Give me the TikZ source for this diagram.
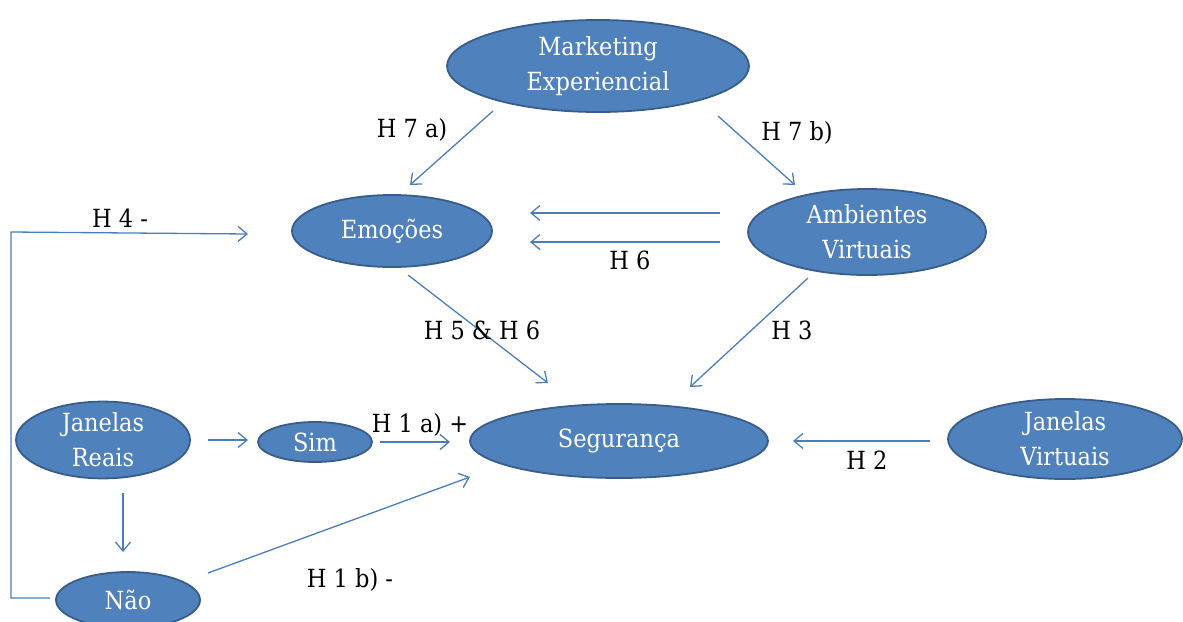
\documentclass[tikz,border=0pt]{standalone}
\usepackage{fontspec}
\setmainfont[FakeStretch=0.9]{DejaVu Serif}
\usetikzlibrary{shapes.geometric,arrows.meta}
\definecolor{nodefill}{HTML}{4F81BD}
\definecolor{nodeline}{HTML}{385D8A}
\definecolor{arrowc}{HTML}{4A7EBB}
\tikzset{
  oval/.style={ellipse,draw=nodeline,line width=1.8pt,fill=nodefill,text=white,inner sep=0pt,align=center,font=\fontsize{25}{35}\selectfont},
  conn/.style={draw=arrowc,line width=1.3pt,-{Straight Barb[length=9pt,width=15pt]}},
  lbl/.style={text=black,inner sep=0pt,font=\fontsize{25}{35}\selectfont}
}
\begin{document}
\begin{tikzpicture}[x=1pt,y=-1pt]
\useasboundingbox (0,0) rectangle (1183,621);
\node[oval,minimum width=302pt,minimum height=92pt] (mk) at (598,66) {Marketing\\Experiencial};
\node[oval,minimum width=200pt,minimum height=72pt] (em) at (392,231) {Emoções};
\node[oval,minimum width=238pt,minimum height=86pt] (av) at (867,232) {Ambientes\\Virtuais};
\node[oval,minimum width=298pt,minimum height=74pt] (seg) at (619,441) {Segurança};
\node[oval,minimum width=234pt,minimum height=80pt] (jv) at (1065,439) {Janelas\\Virtuais};
\node[oval,minimum width=174pt,minimum height=76pt] (jr) at (103,440) {Janelas\\Reais};
\node[oval,minimum width=114pt,minimum height=40pt] (sim) at (315,442) {Sim};
\node[oval,minimum width=144pt,minimum height=56pt] (nao) at (128,600) {Não};

\draw[conn] ([shift={(-105,45)}]mk.center) -- ([shift={(18,-46)}]em.center);
\draw[conn] ([shift={(120,50)}]mk.center) -- ([shift={(-72,-47)}]av.center);
\draw[conn] ([shift={(-147,-19)}]av.center) -- ([shift={(138,-18)}]em.center);
\draw[conn] ([shift={(-147,10)}]av.center) -- ([shift={(138,11)}]em.center);
\draw[conn] ([shift={(16,44)}]em.center) -- ([shift={(-71,-58)}]seg.center);
\draw[conn] ([shift={(-59,46)}]av.center) -- ([shift={(71,-54)}]seg.center);
\draw[conn] ([shift={(105,0)}]jr.center) -- ([shift={(-67,-2)}]sim.center);
\draw[conn] ([shift={(65,0)}]sim.center) -- ([shift={(-169,1)}]seg.center);
\draw[conn] ([shift={(20,53)}]jr.center) -- ([shift={(-5,-48)}]nao.center);
\draw[conn] ([shift={(80,-27)}]nao.center) -- ([shift={(-149,36)}]seg.center);
\draw[conn] ([shift={(-135,2)}]jv.center) -- ([shift={(174,0)}]seg.center);
\draw[conn] ([shift={(-78,-2)}]nao.center) -| (11,232) -- ([shift={(-144,3)}]em.center);

\node[lbl] (l7a) at (412,130) {H 7 a)};
\node[lbl] (l7b) at (797,133) {H 7 b)};
\node[lbl] (l4) at (120,218) {H 4 -};
\node[lbl] (l6) at (630,260) {H 6};
\node[lbl] (l56) at (482,330) {H 5 \& H 6};
\node[lbl] (l3) at (792,330) {H 3};
\node[lbl] (l1a) at (420,425) {H 1 a) +};
\node[lbl] (l2) at (867,460) {H 2};
\node[lbl] (l1b) at (350,580) {H 1 b) -};
\end{tikzpicture}
\end{document}
